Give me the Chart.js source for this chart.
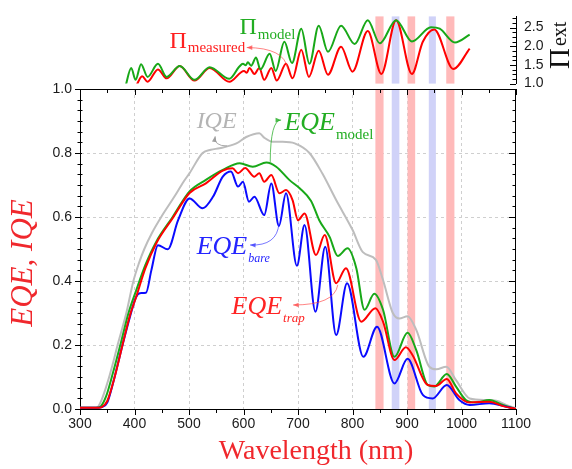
<!DOCTYPE html>
<html>
<head>
<meta charset="utf-8">
<title>EQE / IQE</title>
<script src="https://cdn.jsdelivr.net/npm/chart.js@4.4.1/dist/chart.umd.min.js"></script>
<style>
  body { margin: 0; background: #fff; }
  #wrap { position: relative; width: 572px; height: 469px; }
  #wrap canvas { position: absolute; left: 0; top: 0; }
</style>
</head>
<body>
<div id="wrap">
  <canvas id="eqeChart" width="572" height="469"></canvas>
  <canvas id="piChart" width="572" height="100"></canvas>
</div>
<script>
const SERIF = '"Liberation Serif", "Times New Roman", serif';
const SANS = '"Liberation Sans", Arial, sans-serif';

// IQE (grey)
const iqeNm = [300, 325, 332, 340, 350, 360, 369, 385, 398, 408, 418, 432, 449, 473, 490, 501, 525, 540, 556, 587, 605, 629, 638, 654, 672, 694, 721, 745, 770, 800, 819, 843, 856, 874, 886, 901, 917, 941, 954, 972, 990, 1015, 1045, 1064, 1082, 1100];
const iqeVal = [0.004, 0.004, 0.006, 0.03, 0.08, 0.14, 0.2, 0.3, 0.4, 0.455, 0.5, 0.55, 0.6, 0.663, 0.71, 0.737, 0.8, 0.81, 0.815, 0.83, 0.85, 0.862, 0.848, 0.835, 0.835, 0.83, 0.8, 0.735, 0.653, 0.56, 0.49, 0.466, 0.403, 0.3, 0.283, 0.29, 0.247, 0.132, 0.124, 0.132, 0.09, 0.033, 0.028, 0.026, 0.0125, 0.002];

// EQE model (green)
const modelNm = [300, 330, 338, 348, 360, 374, 389, 403, 420, 440, 470, 501, 531, 562, 593, 617, 642, 660, 684, 703, 724, 739, 758, 773, 791, 807, 822, 840, 856, 877, 901, 917, 938, 950, 973, 990, 1008, 1027, 1051, 1076, 1100];
const modelVal = [0.004, 0.004, 0.008, 0.04, 0.11, 0.2, 0.3, 0.37, 0.45, 0.523, 0.6, 0.68, 0.716, 0.747, 0.768, 0.757, 0.77, 0.757, 0.716, 0.69, 0.65, 0.59, 0.538, 0.478, 0.502, 0.44, 0.31, 0.36, 0.31, 0.163, 0.238, 0.184, 0.075, 0.07, 0.109, 0.07, 0.028, 0.02, 0.028, 0.0125, 0.0];

// EQE trap (red)
const trapNm = [300, 333, 340, 350, 362, 378, 392, 403, 420, 440, 470, 501, 531, 562, 580, 590, 603, 620, 629, 638, 651, 666, 678, 690, 700, 712, 733, 749, 770, 788, 816, 842, 856, 877, 898, 910, 938, 953, 973, 990, 1015, 1051, 1076, 1100];
const trapVal = [0.004, 0.004, 0.006, 0.025, 0.09, 0.2, 0.295, 0.35, 0.44, 0.518, 0.596, 0.675, 0.705, 0.745, 0.752, 0.737, 0.753, 0.726, 0.737, 0.71, 0.731, 0.674, 0.684, 0.653, 0.59, 0.611, 0.481, 0.544, 0.393, 0.44, 0.273, 0.315, 0.273, 0.153, 0.193, 0.169, 0.075, 0.072, 0.094, 0.049, 0.02, 0.023, 0.009, 0.0];

// EQE bare (blue)
const bareNm = [300, 333, 340, 350, 362, 378, 392, 403, 410, 421, 431, 443, 461, 480, 501, 525, 544, 562, 577, 590, 599, 610, 620, 638, 651, 665, 678, 698, 712, 732, 750, 770, 790, 820, 845, 877, 901, 929, 947, 973, 996, 1015, 1051, 1082, 1100];
const bareVal = [0.004, 0.004, 0.006, 0.02, 0.09, 0.2, 0.29, 0.35, 0.362, 0.363, 0.434, 0.512, 0.499, 0.59, 0.658, 0.627, 0.663, 0.726, 0.742, 0.695, 0.71, 0.648, 0.663, 0.606, 0.705, 0.572, 0.674, 0.448, 0.575, 0.304, 0.507, 0.231, 0.393, 0.163, 0.257, 0.08, 0.157, 0.044, 0.033, 0.075, 0.028, 0.0125, 0.018, 0.007, 0.0];

// Pi enhancement, top panel
const piModelNm = [383, 394, 402, 412, 424, 443, 459, 483, 510, 538, 574, 592, 599, 604, 608, 614, 623, 631, 648, 659, 675, 689, 706, 721, 738, 755, 779, 804, 828, 850, 880, 909, 944, 960, 988, 1015];
const piModelVal = [0.9, 1.42, 1.1, 1.52, 1.18, 1.53, 1.18, 1.47, 1.1, 1.44, 1.13, 1.45, 1.53, 1.49, 1.57, 1.48, 1.7, 1.38, 1.8, 1.34, 2.12, 1.55, 2.47, 1.53, 2.55, 1.85, 2.55, 2.06, 2.7, 2.08, 2.7, 2.13, 2.51, 2.47, 2.1, 2.31];
const piMeasNm = [402, 414, 424, 443, 459, 483, 510, 538, 574, 601, 606, 611, 620, 629, 638, 651, 661, 678, 690, 706, 720, 738, 755, 779, 800, 828, 853, 880, 909, 929, 950, 985, 1015];
const piMeasVal = [0.9, 1.2, 1.05, 1.38, 1.14, 1.47, 1.08, 1.42, 1.05, 1.34, 1.29, 1.42, 1.26, 1.42, 1.1, 1.42, 1.08, 1.53, 1.14, 1.91, 1.18, 1.88, 1.24, 1.99, 1.32, 2.41, 1.26, 2.7, 1.26, 2.12, 2.45, 1.39, 1.94];

// highlighted wavelength bands (nm)
const redBands = [[842, 857], [901, 915], [972, 987]];
const blueBands = [[872, 886], [940, 953]];

// tick labels
const wlTicks = [300, 400, 500, 600, 700, 800, 900, 1000, 1100];
const eqeTicks = [0, 0.2, 0.4, 0.6, 0.8, 1.0];
const piTicks = [1.0, 1.5, 2.0, 2.5];

const pts = (xs, ys) => xs.map((x, i) => ({ x, y: ys[i] }));

const line = (data, color, order, width) => ({
  data, borderColor: color, borderWidth: width || 2, pointRadius: 0,
  fill: false, cubicInterpolationMode: 'monotone', order
});

function drawBands(chart) {
  const { ctx, chartArea: a, scales: { x } } = chart;
  ctx.save();
  const paint = (list, color) => {
    ctx.fillStyle = color;
    list.forEach(([lo, hi]) => {
      const x0 = x.getPixelForValue(lo), x1 = x.getPixelForValue(hi);
      ctx.fillRect(x0, a.top, x1 - x0, a.bottom - a.top);
    });
  };
  paint(redBands, '#ffbaba');
  paint(blueBands, '#d0d2f8');
  ctx.restore();
}

function subText(ctx, x, y, main, sub, o) {
  ctx.fillStyle = o.color;
  ctx.textAlign = 'left';
  ctx.textBaseline = 'alphabetic';
  ctx.font = o.mainFont;
  ctx.fillText(main, x, y);
  if (!sub) return;
  const w = ctx.measureText(main).width;
  ctx.font = o.subFont;
  ctx.fillText(sub, x + w + (o.gap || 0), y + o.drop);
}

function arrow(ctx, p0, c, p1, color) {
  ctx.save();
  ctx.strokeStyle = color;
  ctx.fillStyle = color;
  ctx.lineWidth = 0.9;
  ctx.beginPath();
  ctx.moveTo(p0[0], p0[1]);
  ctx.quadraticCurveTo(c[0], c[1], p1[0], p1[1]);
  ctx.stroke();
  const ang = Math.atan2(p1[1] - c[1], p1[0] - c[0]);
  ctx.beginPath();
  ctx.moveTo(p1[0], p1[1]);
  ctx.lineTo(p1[0] - 6 * Math.cos(ang - 0.4), p1[1] - 6 * Math.sin(ang - 0.4));
  ctx.lineTo(p1[0] - 6 * Math.cos(ang + 0.4), p1[1] - 6 * Math.sin(ang + 0.4));
  ctx.closePath();
  ctx.fill();
  ctx.restore();
}

// labels and pointers, placed in data units (nm, value)
const eqeNotes = [
  { at: [514, 0.878], main: 'IQE', color: '#b4b4b4', mainFont: `italic 24px ${SERIF}` },
  { at: [675, 0.872], main: 'EQE', sub: 'model', color: '#22ad22', mainFont: `italic 26px ${SERIF}`, subFont: `15px ${SERIF}`, drop: 9, gap: 1 },
  { at: [514, 0.484], main: 'EQE', sub: 'bare', color: '#2424ff', mainFont: `italic 26px ${SERIF}`, subFont: `italic 12px ${SERIF}`, drop: 8, gap: 1 },
  { at: [578, 0.297], main: 'EQE', sub: 'trap', color: '#ff2424', mainFont: `italic 26px ${SERIF}`, subFont: `italic 13px ${SERIF}`, drop: 8, gap: 1 }
];
const eqeArrows = [
  { from: [570, 0.822], ctrl: [545, 0.822], to: [548, 0.852], color: 'rgba(150,150,150,0.9)' },
  { from: [649, 0.772], ctrl: [649.5, 0.903], to: [669, 0.903], color: 'rgba(30,170,30,0.8)' },
  { from: [665, 0.58], ctrl: [662, 0.509], to: [612, 0.5125], color: 'rgba(40,40,255,0.7)' },
  { from: [773, 0.388], ctrl: [767, 0.325], to: [691, 0.325], color: 'rgba(255,60,60,0.7)' }
];
const piNotes = [
  { at: [592.7, 2.34], main: 'Π', sub: 'model', color: '#22ad22', mainFont: `24px ${SERIF}`, subFont: `15px ${SERIF}`, drop: 5, gap: 1 },
  { at: [464, 1.95], main: 'Π', sub: 'measured', color: '#ff2020', mainFont: `24px ${SERIF}`, subFont: `15px ${SERIF}`, drop: 3.5, gap: 1 }
];
const piArrows = [
  { from: [681, 1.40], ctrl: [675, 1.96], to: [606, 1.965], color: 'rgba(255,70,70,0.75)' }
];

function drawNotes(chart, notes, arrows) {
  const { ctx, scales: { x, y } } = chart;
  const P = (p) => [x.getPixelForValue(p[0]), y.getPixelForValue(p[1])];
  ctx.save();
  notes.forEach(n => {
    const [px, py] = P(n.at);
    subText(ctx, px, py, n.main, n.sub, n);
  });
  arrows.forEach(a => arrow(ctx, P(a.from), P(a.ctrl), P(a.to), a.color));
  ctx.restore();
}

const eqeFrame = {
  id: 'eqeFrame',
  beforeDatasetsDraw(chart) {
    drawBands(chart);
    const { ctx, chartArea: a, scales: { x, y } } = chart;
    ctx.save();
    ctx.strokeStyle = '#000';
    ctx.lineWidth = 1;
    ctx.beginPath();
    ctx.moveTo(a.left, a.top + 0.5); ctx.lineTo(a.right, a.top + 0.5);
    ctx.moveTo(a.right - 0.5, a.top); ctx.lineTo(a.right - 0.5, a.bottom);
    for (let v = 300; v <= 1100; v += 50) {
      const px = Math.round(x.getPixelForValue(v)) + 0.5;
      const len = v % 100 === 0 ? 6 : 4;
      ctx.moveTo(px, a.bottom); ctx.lineTo(px, a.bottom + len);
      ctx.moveTo(px, a.top); ctx.lineTo(px, a.top + len);
    }
    for (let i = 0; i <= 30; i++) {
      const py = Math.round(y.getPixelForValue(i / 30)) + 0.5;
      const major = i % 6 === 0;
      ctx.moveTo(a.left - (major ? 5 : 2.5), py); ctx.lineTo(a.left + (major ? 2 : 2.5), py);
      ctx.moveTo(a.right, py); ctx.lineTo(a.right - (major ? 7 : 3.5), py);
    }
    ctx.stroke();
    ctx.restore();
  },
  afterDatasetsDraw(chart) {
    drawNotes(chart, eqeNotes, eqeArrows);
    const { ctx, chartArea: a } = chart;
    ctx.save();
    ctx.fillStyle = '#f0282d';
    ctx.textAlign = 'center';
    ctx.textBaseline = 'alphabetic';
    ctx.font = `28px ${SERIF}`;
    ctx.fillText('Wavelength (nm)', (a.left + a.right) / 2 + 18, 459);
    ctx.translate(32, 263);
    ctx.rotate(-Math.PI / 2);
    ctx.font = `italic 31px ${SERIF}`;
    ctx.fillText('EQE, IQE', 0, 0);
    ctx.restore();
  }
};

const piFrame = {
  id: 'piFrame',
  beforeDatasetsDraw(chart) {
    drawBands(chart);
    const { ctx, chartArea: a, scales: { y } } = chart;
    ctx.save();
    ctx.strokeStyle = '#000';
    ctx.lineWidth = 1;
    ctx.beginPath();
    for (let i = 0; i <= 14; i++) {
      const py = Math.round(y.getPixelForValue(1 + i * 0.125)) + 0.5;
      ctx.moveTo(a.right, py); ctx.lineTo(a.right - (i % 4 === 0 ? 6 : 3.5), py);
    }
    ctx.stroke();
    ctx.restore();
  },
  afterDatasetsDraw(chart) {
    drawNotes(chart, piNotes, piArrows);
    const { ctx } = chart;
    ctx.save();
    ctx.fillStyle = '#111';
    ctx.textAlign = 'left';
    ctx.translate(569, 69);
    ctx.rotate(-Math.PI / 2);
    ctx.font = `29px ${SERIF}`;
    ctx.fillText('Π', 0, 0);
    const w = ctx.measureText('Π').width;
    ctx.font = `20px ${SERIF}`;
    ctx.fillText('ext', w + 2, -3);
    ctx.restore();
  }
};

const tickFont = { family: SANS, size: 14 };

new Chart(document.getElementById('eqeChart'), {
  type: 'line',
  data: {
    datasets: [
      line(pts(trapNm, trapVal), '#ff0000', 0),
      line(pts(bareNm, bareVal), '#0a0aff', 1),
      line(pts(modelNm, modelVal), '#18a818', 2),
      line(pts(iqeNm, iqeVal), '#bdbdbd', 3)
    ]
  },
  options: {
    responsive: false,
    animation: false,
    devicePixelRatio: 1,
    layout: { padding: { top: 89, right: 56, left: 0, bottom: 0 } },
    plugins: { legend: { display: false }, tooltip: { enabled: false } },
    scales: {
      x: {
        type: 'linear', min: 300, max: 1100,
        afterBuildTicks: s => { s.ticks = wlTicks.map(v => ({ value: v })); },
        afterFit: s => { s.height = 60; },
        ticks: { font: tickFont, color: '#1a1a1a', padding: 7, maxRotation: 0, callback: v => String(v) },
        grid: {
          drawTicks: false, lineWidth: 1,
          color: c => (c.tick && (c.tick.value === 300 || c.tick.value === 1100)) ? 'rgba(0,0,0,0)' : '#cfcfcf'
        },
        border: { display: true, color: '#000', width: 1, dash: [3, 3] }
      },
      y: {
        min: 0, max: 1,
        afterBuildTicks: s => { s.ticks = eqeTicks.map(v => ({ value: v })); },
        afterFit: s => { s.width = 80; },
        ticks: { font: tickFont, color: '#1a1a1a', padding: 8, callback: v => v.toFixed(1) },
        grid: {
          drawTicks: false, lineWidth: 1,
          color: c => (c.tick && (c.tick.value === 0 || c.tick.value === 1)) ? 'rgba(0,0,0,0)' : '#cfcfcf'
        },
        border: { display: true, color: '#000', width: 1, dash: [3, 3] }
      }
    }
  },
  plugins: [eqeFrame]
});

new Chart(document.getElementById('piChart'), {
  type: 'line',
  data: {
    datasets: [
      line(pts(piModelNm, piModelVal), '#18a818', 0),
      line(pts(piMeasNm, piMeasVal), '#ff0000', 1)
    ]
  },
  options: {
    responsive: false,
    animation: false,
    devicePixelRatio: 1,
    layout: { padding: { top: 12, right: 0, left: 80, bottom: 11 } },
    plugins: { legend: { display: false }, tooltip: { enabled: false } },
    scales: {
      x: { type: 'linear', min: 300, max: 1100, display: false },
      y: {
        position: 'right', min: 1, max: 2.8,
        afterBuildTicks: s => { s.ticks = piTicks.map(v => ({ value: v })); },
        afterFit: s => { s.width = 56; },
        ticks: { font: tickFont, color: '#1a1a1a', padding: 8, callback: v => v.toFixed(1) },
        grid: { display: false, drawTicks: false },
        border: { display: true, color: '#000', width: 1 }
      }
    }
  },
  plugins: [piFrame]
});
</script>
</body>
</html>
